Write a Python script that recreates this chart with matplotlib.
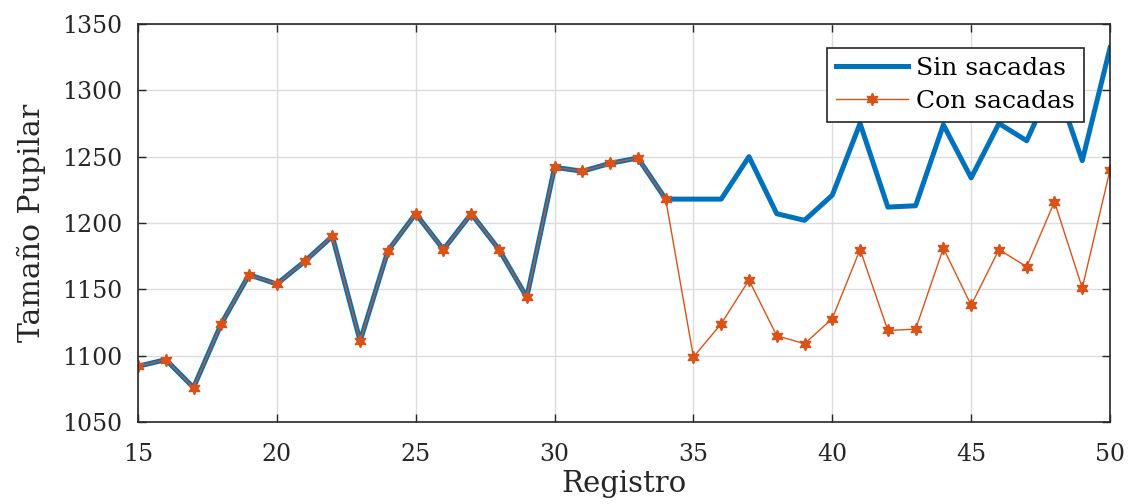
import numpy as np
import matplotlib.pyplot as plt

plt.rcParams['font.family'] = ['DejaVu Serif']

# Datos
registro = np.arange(15, 51)
sin_sacadas = [1092, 1097, 1076, 1124, 1161, 1154, 1171, 1190, 1111, 1179,
               1207, 1180, 1207, 1180, 1144, 1242, 1239, 1245, 1249, 1218,
               1218, 1218, 1250, 1207, 1202, 1221, 1275, 1212, 1213, 1274,
               1234, 1275, 1262, 1308, 1247, 1332]
con_sacadas = [1092, 1097, 1076, 1124, 1161, 1154, 1171, 1190, 1111, 1179,
               1207, 1180, 1207, 1180, 1144, 1242, 1239, 1245, 1249, 1218,
               1099, 1124, 1157, 1115, 1109, 1128, 1180, 1119, 1120, 1181,
               1138, 1180, 1167, 1216, 1151, 1240]

azul = '#0072BD'
naranja = '#D95319'

fig = plt.figure(figsize=(11.29, 5.04), dpi=100)
ax = fig.add_axes([0.1222, 0.1627, 0.8610, 0.7897])

ax.plot(registro, sin_sacadas, '-', color=azul, linewidth=3.6, label='Sin sacadas')
ax.plot(registro, con_sacadas, '-', color=naranja, linewidth=1.0,
        marker=(6, 1, 0), markersize=9, label='Con sacadas')

ax.set_xlim(15, 50)
ax.set_ylim(1050, 1350)
ax.set_xticks(np.arange(15, 51, 5))
ax.set_yticks(np.arange(1050, 1351, 50))
ax.grid(True, color='#dcdcdc', linewidth=1.0)
ax.set_axisbelow(True)
ax.tick_params(direction='in', top=True, right=True, length=6, width=1,
               labelsize=17, colors='#262626')
ax.tick_params(axis='y', pad=11)
ax.tick_params(axis='x', pad=15)
for s in ax.spines.values():
    s.set_linewidth(1.2)
    s.set_color('#262626')

ax.set_xlabel('Registro', fontsize=21, labelpad=3, color='#262626')
ax.set_ylabel('Tamaño Pupilar', fontsize=21.5, labelpad=12, color='#262626')

leg = ax.legend(loc='upper right', bbox_to_anchor=(0.973, 0.94), fontsize=18,
                frameon=True, fancybox=False, edgecolor='#262626',
                framealpha=1, borderpad=0.35, handlelength=2.9, labelspacing=0.42,
                handletextpad=0.32, borderaxespad=0)
leg.get_frame().set_linewidth(1.2)
leg.set_zorder(10)

plt.savefig('out.png', dpi=100)
plt.close()
